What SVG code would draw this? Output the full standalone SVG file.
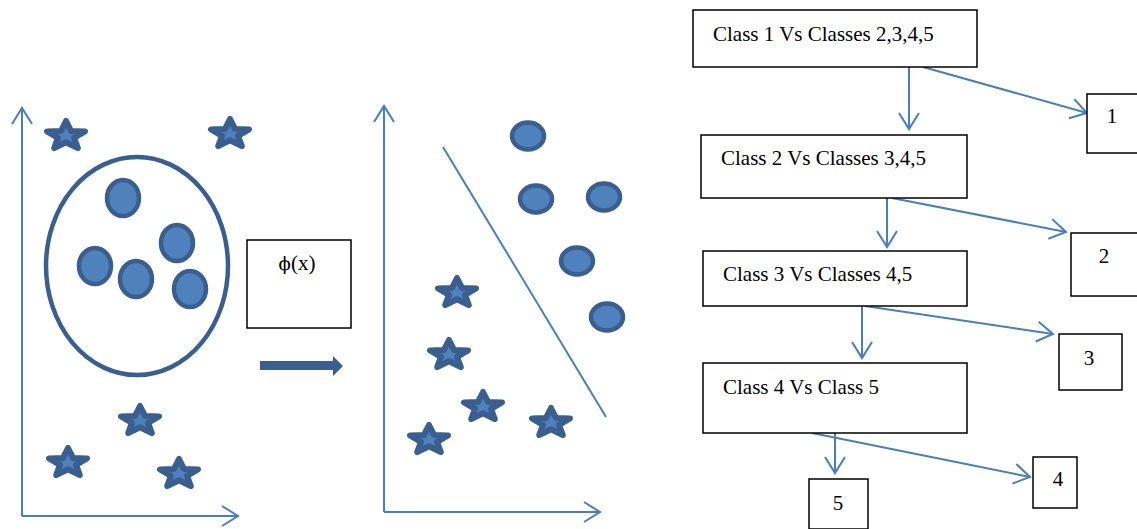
<svg xmlns="http://www.w3.org/2000/svg" width="1137" height="529" viewBox="0 0 1137 529">
<defs>
<marker id="chev" markerUnits="userSpaceOnUse" markerWidth="40" markerHeight="40" viewBox="-20 -20 40 40" refX="0" refY="0" orient="auto" overflow="visible">
<path d="M-16,-10 L0,0 L-16,10" fill="none" stroke="#4A7EBB" stroke-width="2"/>
</marker>
<path id="star" d="M0,-15 L5,-5.1 L19,-4.6 L8,1.9 L11.8,12.1 L0,6.3 L-11.8,12.1 L-8,1.9 L-19,-4.6 L-5,-5.1 Z"/>
</defs>
<style>
.ax{stroke:#4A7EBB;stroke-width:2;fill:none}
.st{fill:#4F81BD;stroke:#3A5F8F;stroke-width:6;stroke-linejoin:round}
.dot{fill:#4F81BD;stroke:#3A5F8F;stroke-width:4.5}
.box{fill:#fff;stroke:#000;stroke-width:1.5}
.t{font-family:"Liberation Serif","Times New Roman",serif;font-size:21px;fill:#000}
.c{stroke:#4A7EBB;stroke-width:2;fill:none}
</style>
<rect width="1137" height="529" fill="#fff"/>

<g id="left-plot">
<path class="ax" d="M22,516 L22,108" marker-end="url(#chev)"/>
<path class="ax" d="M22,516 L238,516" marker-end="url(#chev)"/>
<ellipse cx="137" cy="266" rx="91" ry="109" fill="none" stroke="#3A5F8F" stroke-width="4.5"/>
<ellipse class="dot" cx="123" cy="198" rx="16" ry="18"/>
<ellipse class="dot" cx="177" cy="243" rx="16" ry="18"/>
<ellipse class="dot" cx="95" cy="266" rx="16" ry="18"/>
<ellipse class="dot" cx="136" cy="279" rx="16" ry="18"/>
<ellipse class="dot" cx="190" cy="289" rx="16" ry="18"/>
<use href="#star" class="st" x="66" y="136"/>
<use href="#star" class="st" x="230" y="134"/>
<use href="#star" class="st" x="140" y="421"/>
<use href="#star" class="st" x="68" y="463"/>
<use href="#star" class="st" x="179" y="474"/>
</g>

<g id="phi-box">
<rect class="box" x="247" y="240" width="104" height="88"/>
<text class="t" x="297" y="270" text-anchor="middle" font-size="20"><tspan font-family="'DejaVu Serif',serif" font-size="18" fill="#000">ϕ</tspan>(x)</text>
</g>

<g id="transform-arrow">
<path d="M260,361 L333,361 L333,356 L343,366 L333,376 L333,370 L260,370 Z" fill="#3A5F8F"/>
</g>

<g id="right-plot">
<path class="ax" d="M384,512 L384,106" marker-end="url(#chev)"/>
<path class="ax" d="M384,512 L600,512" marker-end="url(#chev)"/>
<line x1="443" y1="147" x2="606" y2="417" stroke="#4A7EBB" stroke-width="2"/>
<ellipse class="dot" cx="528" cy="136" rx="16" ry="13.5"/>
<ellipse class="dot" cx="536" cy="199" rx="16" ry="13.5"/>
<ellipse class="dot" cx="604" cy="197" rx="16" ry="13.5"/>
<ellipse class="dot" cx="577" cy="261" rx="16" ry="13.5"/>
<ellipse class="dot" cx="607" cy="317" rx="16" ry="13.5"/>
<use href="#star" class="st" x="457" y="293"/>
<use href="#star" class="st" x="449" y="355"/>
<use href="#star" class="st" x="483" y="407"/>
<use href="#star" class="st" x="429" y="440"/>
<use href="#star" class="st" x="551" y="423"/>
</g>

<g id="connectors">
<path class="c" d="M909,67 L909,129" marker-end="url(#chev)"/>
<path class="c" d="M923,67 L1087,113" marker-end="url(#chev)"/>
<path class="c" d="M887,198 L887,247" marker-end="url(#chev)"/>
<path class="c" d="M892,198 L1066,232" marker-end="url(#chev)"/>
<path class="c" d="M862,306 L862,358" marker-end="url(#chev)"/>
<path class="c" d="M865,306 L1053,334" marker-end="url(#chev)"/>
<path class="c" d="M835,433 L835,473" marker-end="url(#chev)"/>
<path class="c" d="M812,433 L1030,477" marker-end="url(#chev)"/>
</g>

<g id="node-c1">
<rect class="box" x="693" y="10" width="284" height="57"/>
<text class="t" x="713" y="41">Class 1 Vs Classes 2,3,4,5</text>
</g>
<g id="node-r1">
<rect class="box" x="1087" y="94" width="60" height="59"/>
<text class="t" x="1112" y="123" text-anchor="middle">1</text>
</g>
<g id="node-c2">
<rect class="box" x="701" y="135" width="266" height="63"/>
<text class="t" x="721" y="165">Class 2 Vs Classes 3,4,5</text>
</g>
<g id="node-r2">
<rect class="box" x="1071" y="233" width="76" height="63"/>
<text class="t" x="1104" y="263" text-anchor="middle">2</text>
</g>
<g id="node-c3">
<rect class="box" x="703" y="251" width="264" height="55"/>
<text class="t" x="723" y="281">Class 3 Vs Classes 4,5</text>
</g>
<g id="node-r3">
<rect class="box" x="1059" y="334" width="63" height="56"/>
<text class="t" x="1089" y="365" text-anchor="middle">3</text>
</g>
<g id="node-c4">
<rect class="box" x="703" y="363" width="264" height="70"/>
<text class="t" x="723" y="394">Class 4 Vs Class 5</text>
</g>
<g id="node-r5">
<rect class="box" x="809" y="479" width="59" height="50"/>
<text class="t" x="838" y="510" text-anchor="middle">5</text>
</g>
<g id="node-r4">
<rect class="box" x="1033" y="457" width="44" height="51"/>
<text class="t" x="1058" y="486" text-anchor="middle">4</text>
</g>
</svg>
